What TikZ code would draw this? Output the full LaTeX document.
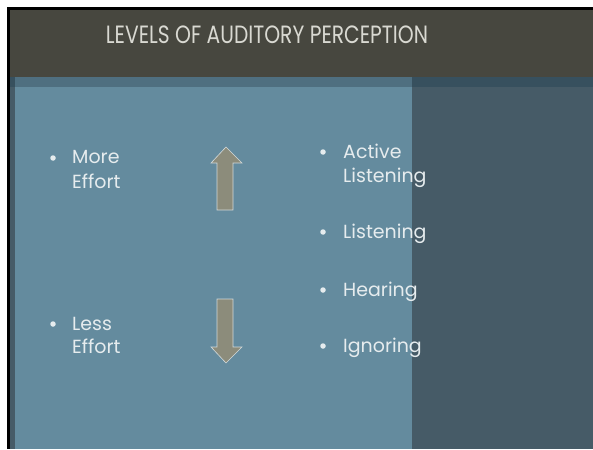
\documentclass[tikz,border=0pt]{standalone}
\usepackage{fontspec}
\setmainfont{Poppins}
\begin{document}
\begin{tikzpicture}[x=1pt,y=-1pt,
  bodytext/.style={anchor=base west,inner sep=0pt,text=txt,font=\fontsize{19}{24}\selectfont},
  dot/.style={circle,fill=txt,inner sep=0pt,minimum size=5.5pt},
  arrowshape/.style={fill=arrowfill,draw=arrowedge,line width=0.6pt,line join=miter}]
\definecolor{header}{HTML}{47473F}
\definecolor{panel}{HTML}{648B9E}
\definecolor{sidepanel}{HTML}{465B67}
\definecolor{bandlight}{HTML}{4F6F80}
\definecolor{banddark}{HTML}{37505E}
\definecolor{txt}{HTML}{E6ECEE}
\definecolor{titletxt}{HTML}{D9D9D2}
\definecolor{arrowfill}{HTML}{8C8C7B}
\definecolor{arrowedge}{HTML}{D2DADB}
\useasboundingbox (0,0) rectangle (593,449);
% page margin and frame
\fill[white] (0,0) rectangle (593,449);
\fill[black] (7,7) rectangle (593,449);
% slide areas
\fill[sidepanel] (10,10) rectangle (593,449);
\fill[panel] (15,87) rectangle (412,449);
\fill[header] (10,10) rectangle (593,77);
\fill[bandlight] (15,77) rectangle (412,87);
\fill[banddark] (412,77) rectangle (593,87);
\fill[banddark] (10,77) rectangle (15,87);
% title
\node[anchor=base,inner sep=0pt,text=titletxt] (title) at (267,44)
  {\scalebox{0.81}[1]{\fontsize{25}{26}\selectfont LEVELS OF AUDITORY PERCEPTION}};
% left column
\node[dot] (b1) at (53,158) {};
\node[bodytext] (more) at (72,164) {More};
\node[bodytext] (effort1) at (72,188) {Effort};
\node[dot] (b2) at (53,324) {};
\node[bodytext] (less) at (72,330) {Less};
\node[bodytext] (effort2) at (72,353) {Effort};
% right column
\node[dot] (r1) at (323,152) {};
\node[bodytext] (active) at (343,158) {Active};
\node[bodytext] (listening1) at (343,182) {Listening};
\node[dot] (r2) at (323,232) {};
\node[bodytext] (listening2) at (343,238) {Listening};
\node[dot] (r3) at (323,290) {};
\node[bodytext] (hearing) at (343,296) {Hearing};
\node[dot] (r4) at (323,346) {};
\node[bodytext] (ignoring) at (343,352) {Ignoring};
% block arrows
\draw[arrowshape] (226,147) -- (242,163) -- (233,163) -- (233,210) -- (217,210)
  -- (217,163) -- (211,163) -- cycle;
\draw[arrowshape] (217,299) -- (233,299) -- (233,347) -- (242,347) -- (226,363)
  -- (211,347) -- (217,347) -- cycle;
\end{tikzpicture}
\end{document}
